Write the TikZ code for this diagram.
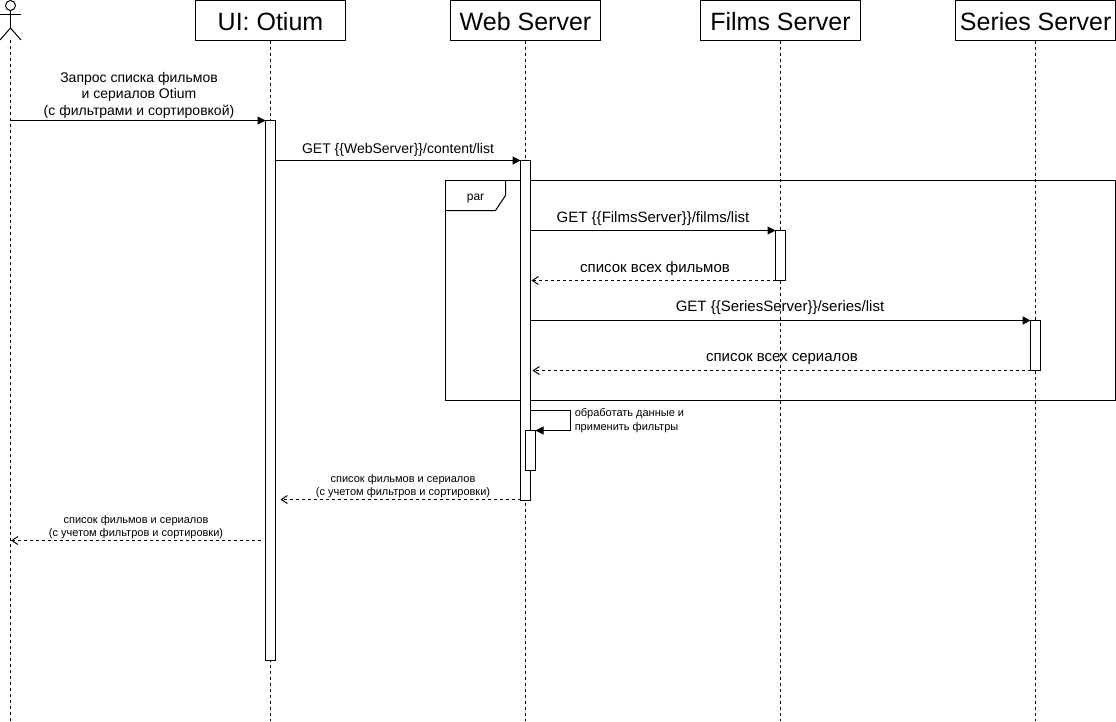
\documentclass[tikz,border=0pt]{standalone}
\usepackage{fontspec}
\setmainfont{Liberation Sans}
\usetikzlibrary{arrows.meta,positioning}
\tikzset{
	head/.style={
		rectangle,
		draw,
		line width=0.75pt,
		outer sep=0pt,
		minimum width=112.5pt,
		minimum height=30pt,
		text height=15.6pt,
		text depth=0pt,
		font=\fontsize{18.75}{22}\selectfont,
	},
	headwide/.style={
		head,
		minimum width=120pt,
	},
	lifeline/.style={
		line width=0.75pt,
		dash pattern=on 2.25pt off 2.25pt,
	},
	bar/.style={
		rectangle,
		draw,
		fill=white,
		line width=0.75pt,
		outer sep=0pt,
		inner sep=0pt,
		anchor=north,
		minimum width=7.5pt,
	},
	msg/.style={
		-{Triangle[length=6pt,width=6pt]},
		line width=0.75pt,
	},
	reply/.style={
		-{Straight Barb[length=4.5pt,width=6pt]},
		line width=0.75pt,
		dash pattern=on 2.25pt off 2.25pt,
	},
	stick/.style={
		line width=0.75pt,
	},
	lbl/.style={
		align=center,
		inner sep=0pt,
		font=\fontsize{10.5}{12.4}\selectfont,
	},
	lblbig/.style={
		lbl,
		font=\fontsize{11.25}{13}\selectfont,
	},
	lblsmall/.style={
		align=center,
		inner sep=0pt,
		font=\fontsize{8.25}{9.8}\selectfont,
	},
}
\begin{document}
\begin{tikzpicture}[x=0.75pt,y=-0.75pt]
	\useasboundingbox (0,0) rectangle (1116,721);
	\coordinate (bottom) at (0,721);

	% par frame
	\draw [stick] (445.5,180.5) rectangle (1115.5,400.5);
	\draw [stick] (445.5,210.5) -- (495.5,210.5) -- (505.5,195.5) -- (505.5,180.5);
	\node [lblsmall,font=\fontsize{9}{10}\selectfont] (parlbl) at (475.5,198.5) {par};

	% heads
	\node [head] (uihead) at (270.5,20.5) {UI: Otium};
	\node [head,right=78.75pt of uihead] (webhead) {Web Server};
	\node [headwide,right=75pt of webhead] (filmshead) {Films Server};
	\node [headwide,right=71.25pt of filmshead] (serieshead) {Series Server};

	% actor
	\node [circle,draw,line width=0.75pt,inner sep=0pt,minimum size=7.5pt] (actorhead) at (10.5,5.5) {};
	\coordinate (hip) at (10.5,28);
	\coordinate (actor) at (10.5,40);
	\draw [stick] (actorhead.south) -- (hip);
	\draw [stick] (0,14) -- (21,14);
	\draw [stick] (0,40) -- (hip) -- (21,40);

	% lifelines
	\draw [lifeline] (actor) -- (actor |- bottom);
	\foreach \h in {uihead,webhead,filmshead,serieshead}
		\draw [lifeline] (\h.south) -- (\h |- bottom);

	% bars
	\node [bar,minimum height=405pt] (uibar) at (uihead |- 0,120.5) {};
	\node [bar,minimum height=255pt] (webbar) at (webhead |- 0,160.5) {};
	\node [bar,minimum height=37.5pt] (filmsbar) at (filmshead |- 0,230.5) {};
	\node [bar,minimum height=37.5pt] (seriesbar) at (serieshead |- 0,320.5) {};
	\node [bar,minimum height=30pt] (innerbar) at (530.5,430.5) {};

	% free ends
	\coordinate (start) at (10.5,120.5);
	\coordinate (loopout) at (530.5,410.5);
	\coordinate (webback) at (280.5,499.5);
	\coordinate (uiback) at (261,540.5);
	\coordinate (actorback) at (11,540.5);

	% messages
	\draw [msg] (start) -- (uibar.north west);
	\draw [msg] (uibar.east |- webbar.north) -- (webbar.north west);
	\draw [msg] (webbar.east |- filmsbar.north) -- (filmsbar.north west);
	\draw [reply] (filmsbar.south west) -- ([xshift=0.75pt]webbar.east |- filmsbar.south);
	\draw [msg] (webbar.east |- seriesbar.north) -- (seriesbar.north west);
	\draw [reply] (seriesbar.south west) -- ([xshift=1.5pt]webbar.east |- seriesbar.south);
	\draw [msg] (loopout) -- ++(40,0) |- (innerbar.north east);
	\draw [reply] ([yshift=0.75pt]webbar.south west) -- (webback);
	\draw [reply] (uiback) -- (actorback);

	% labels
	\node [lbl] (m1) at (139,95) {Запрос списка фильмов\\и сериалов Otium\\(с фильтрами и сортировкой)};
	\node [lbl] (m2) at (398,149.5) {GET \{\{WebServer\}\}/content/list};
	\node [lblbig] (m3) at (653,219) {GET \{\{FilmsServer\}\}/films/list};
	\node [lblbig] (m4) at (655,269) {список всех фильмов};
	\node [lblbig] (m5) at (780,308) {GET \{\{SeriesServer\}\}/series/list};
	\node [lblbig] (m6) at (782,359) {список всех сериалов};
	\node [lblsmall,align=left,anchor=west,font=\fontsize{8.25}{10.5}\selectfont] (m7) at (574.5,420.5) {обработать данные и\\применить фильтры};
	\node [lblsmall] (m8) at (403,486.5) {список фильмов и сериалов\\(с учетом фильтров и сортировки)};
	\node [lblsmall] (m9) at (136,527.5) {список фильмов и сериалов\\(с учетом фильтров и сортировки)};
\end{tikzpicture}
\end{document}
